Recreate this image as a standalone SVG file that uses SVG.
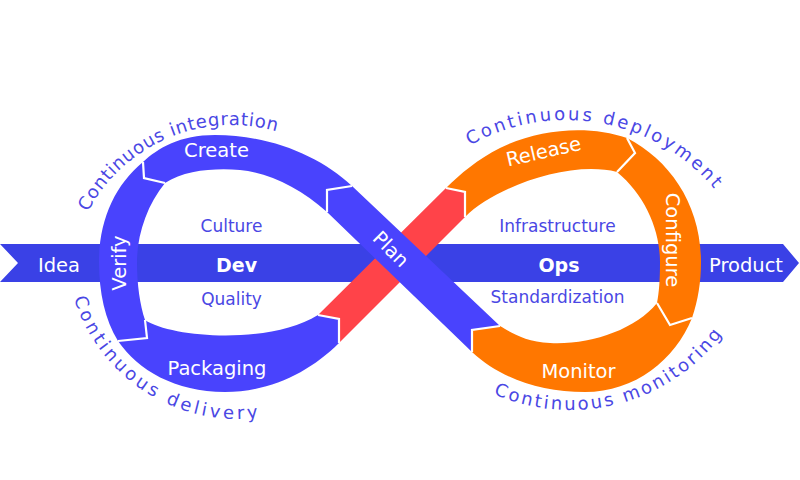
<svg xmlns="http://www.w3.org/2000/svg" width="800" height="480" viewBox="0 0 800 480">
<style>
.blue{fill:#4943fd}
.orange{fill:#ff7700}
.red{fill:#ff4349}
.band{fill:#3a41e6}
.sep{fill:none;stroke:#fff;stroke-width:2.2;stroke-linejoin:miter}
.w{fill:#fff;font-family:"DejaVu Sans",sans-serif;font-size:19.5px}
.wb{fill:#fff;font-family:"DejaVu Sans",sans-serif;font-size:19px;font-weight:bold}
.in{fill:#4a47e4;font-family:"DejaVu Sans",sans-serif;font-size:17px}
.arc{fill:#4a47e4;font-family:"DejaVu Sans",sans-serif;font-size:18px}
</style>
<defs>
<path id="p-int" d="M 69 288 A 163 163 0 0 1 395 288"/>
<path id="p-del" d="M 66 247 A 172 172 0 0 0 410 247"/>
<path id="p-dep" d="M 372 314 A 194 194 0 0 1 760 314"/>
<path id="p-mon" d="M 379 219 A 191 191 0 0 0 761 219"/>
</defs>

<g id="band">
<polygon class="band" points="0,244 783,244 799,263 783,282 0,282 18,263"/>
<text class="w" x="59" y="272" text-anchor="middle">Idea</text>
<text class="wb" x="236.5" y="272" text-anchor="middle">Dev</text>
<text class="wb" x="559" y="272" text-anchor="middle">Ops</text>
<text class="w" x="746" y="272" text-anchor="middle">Product</text>
</g>

<g id="labels-inner">
<text class="in" x="231.5" y="232" text-anchor="middle">Culture</text>
<text class="in" x="231.5" y="305" text-anchor="middle">Quality</text>
<text class="in" x="557.5" y="232" text-anchor="middle">Infrastructure</text>
<text class="in" x="557.5" y="303" text-anchor="middle">Standardization</text>
</g>

<g id="create">
<path class="blue" d="M 327 190 L 352 186 C 320 156 270 135 215 135 C 180 135 158 148 143 162 L 144 178 L 165 183 C 185 170 215 168 240 170 C 270 173 300 188 327 212 Z"/>
<text class="w" x="216.5" y="157" text-anchor="middle">Create</text>
</g>

<g id="verify">
<path class="blue" d="M 143 162 L 144 178 L 165 183 C 147 205 137 235 137 262 C 137 285 140 305 145 320 L 147 338 L 118 341 C 105 320 99 292 99 262 C 99 220 115 185 143 162 Z"/>
<text class="w" transform="translate(126,263) rotate(-90)" text-anchor="middle">Verify</text>
</g>

<g id="packaging">
<path class="blue" d="M 118 341 L 147 338 L 145 320 C 172 338 270 345 318 315 L 339 319 L 339 343 C 310 372 270 392 225 392 C 175 392 138 370 118 341 Z"/>
<text class="w" x="217" y="375" text-anchor="middle">Packaging</text>
</g>

<g id="handoff">
<path class="red" d="M 318 315 L 339 319 L 339 343 L 465 217 L 465 192 L 446 188 Z"/>
</g>

<g id="release">
<path class="orange" d="M 446 188 L 465 192 L 465 217 C 495 187 570 160 617 172 L 635 153 L 627 138 C 590 125 540 128 500 148 C 478 159 460 174 446 188 Z"/>
<text class="w" transform="translate(545,158) rotate(-13)" text-anchor="middle">Release</text>
</g>

<g id="configure">
<path class="orange" d="M 627 138 L 635 153 L 617 172 C 645 195 660 230 660 262 C 660 280 659 292 657 303 L 670 325 L 692 318 C 698 300 701 282 701 262 C 701 205 670 160 627 138 Z"/>
<text class="w" transform="translate(666,240) rotate(90)" text-anchor="middle">Configure</text>
</g>

<g id="monitor">
<path class="orange" d="M 692 318 L 670 325 L 657 303 C 635 330 590 345 550 343 C 525 342 510 332 500 326 L 472 330 L 472 352 C 500 378 540 392 585 392 C 635 392 675 360 692 318 Z"/>
<text class="w" x="578.5" y="378" text-anchor="middle">Monitor</text>
</g>

<g id="plan">
<path class="blue" d="M 472 330 L 500 326 L 352 186 L 327 190 L 327 212 L 472 352 Z"/>
<text class="w" transform="translate(391,249) rotate(45)" text-anchor="middle" dy="7">Plan</text>
</g>

<g id="separators">
<polyline class="sep" points="352,186 327,190 327,212"/>
<polyline class="sep" points="143,162 144,178 165,183"/>
<polyline class="sep" points="145,320 147,338 118,341"/>
<polyline class="sep" points="318,315 339,319 339,343"/>
<polyline class="sep" points="446,188 465,192 465,217"/>
<polyline class="sep" points="627,138 635,153 617,172"/>
<polyline class="sep" points="657,303 670,325 692,318"/>
<polyline class="sep" points="500,326 472,330 472,352"/>
</g>

<g id="phases">
<text class="arc" letter-spacing="0.75"><textPath href="#p-int" startOffset="79">Continuous integration</textPath></text>
<text class="arc" letter-spacing="3.25"><textPath href="#p-del" startOffset="52">Continuous delivery</textPath></text>
<text class="arc" letter-spacing="2.7"><textPath href="#p-dep" startOffset="204">Continuous deployment</textPath></text>
<text class="arc" letter-spacing="2.45"><textPath href="#p-mon" startOffset="221">Continuous monitoring</textPath></text>
</g>
</svg>
